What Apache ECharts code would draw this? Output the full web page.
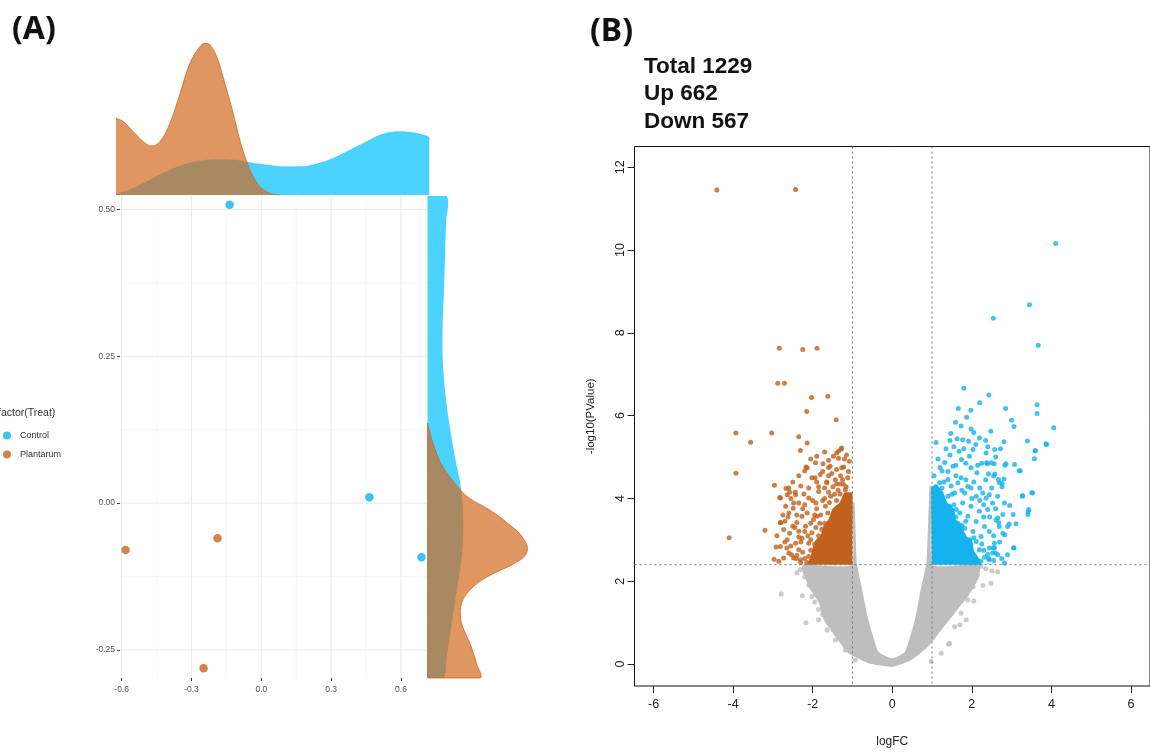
<!DOCTYPE html>
<html><head><meta charset="utf-8">
<script src="https://cdn.jsdelivr.net/npm/echarts@6/dist/echarts.min.js"></script>
<style>html,body{margin:0;padding:0;background:#fff}#c{width:1150px;height:755px}</style>
</head><body><div id="c"></div>
<script>
// ---------------- Panel A data ----------------
const treatGroups = ['Control', 'Plantarum'];
const controlPts = [[-0.136, 0.508], [0.464, 0.010], [0.688, -0.092]];
const plantarumPts = [[-0.583, -0.080], [-0.188, -0.060], [-0.248, -0.281]];
const pcaXTicks = [-0.6, -0.3, 0.0, 0.3, 0.6];
const pcaYTicks = [-0.25, 0.0, 0.25, 0.5];
const pcaXMinor = [-0.45, -0.15, 0.15, 0.45];
const pcaYMinor = [-0.125, 0.125, 0.375];
// top marginal density: [x, density height]
const topDensControl = [[-0.6245,0.7],[-0.550,6.7],[-0.478,15],[-0.4067,23.3],[-0.335,30],[-0.264,34],[-0.192,35.3],[-0.121,35],[-0.0495,32.3],[0.023,30],[0.094,28.3],[0.166,28.3],[0.2376,31],[0.309,36.7],[0.381,45],[0.452,53.3],[0.5237,61],[0.595,63.3],[0.6526,62.3],[0.6955,60],[0.7213,57.7]];
const topDensPlantarum = [[-0.6245,76.7],[-0.593,73.3],[-0.550,63.3],[-0.507,53.3],[-0.471,49],[-0.4355,53.3],[-0.393,71.7],[-0.349,101.7],[-0.307,131.7],[-0.264,148.3],[-0.242,151.7],[-0.2207,150],[-0.192,138.3],[-0.157,111.7],[-0.121,81.7],[-0.0925,55],[-0.063,33.3],[-0.035,18.3],[-0.0064,8.3],[0.023,3.3],[0.051,0.7],[0.08,0]];
// right marginal density: [density width, y]
const rightDensControl = [[19.2,0.5227],[18.5,0.4761],[17.5,0.4192],[16.5,0.3625],[15.2,0.3057],[15.2,0.2488],[17.5,0.1921],[21.8,0.1353],[27.5,0.0784],[33.8,0.0216],[35.8,-0.0351],[34.2,-0.092],[29.2,-0.1488],[24.2,-0.2055],[19.2,-0.2624],[15.8,-0.2977]];
const rightDensPlantarum = [[0,0.1358],[2.5,0.1188],[5.5,0.1018],[9,0.0849],[13,0.0678],[19,0.0523],[25,0.0387],[35,0.0182],[45,0.0046],[58,-0.0073],[70,-0.0209],[80,-0.0343],[90,-0.0480],[97,-0.0634],[100,-0.0770],[97,-0.0906],[85,-0.1045],[66,-0.1198],[52,-0.1335],[42,-0.1488],[36,-0.1624],[33,-0.1777],[33,-0.1913],[34,-0.2050],[38,-0.2220],[42.5,-0.2391],[46,-0.2561],[49,-0.2731],[52.5,-0.2977]];

// ---------------- Panel B data ----------------
const volcanoXTicks = [-6, -4, -2, 0, 2, 4, 6];
const volcanoYTicks = [0, 2, 4, 6, 8, 10, 12];
const fcCut = [-1, 1];
const pCut = 2.4;
const summaryLines = ['Total 1229', 'Up 662', 'Down 567'];
const downPts = [[-4.41,11.45],[-2.43,11.46],[-2.84,7.63],[-2.25,7.60],[-1.89,7.63],[-2.88,6.78],[-2.71,6.78],[-2.03,6.44],[-1.62,6.47],[-2.15,6.10],[-1.41,5.90],[-3.93,5.58],[-3.03,5.58],[-3.56,5.36],[-2.35,5.49],[-2.14,5.34],[-2.31,5.16],[-3.93,4.61],[-2.96,4.32],[-4.10,3.05],[-3.20,3.23],[-2.92,2.83],[-2.97,2.53],
[-1.27,5.22],[-1.35,5.14],[-1.29,5.19],[-1.70,5.12],[-1.60,4.92],[-1.56,4.78],[-1.35,4.97],[-1.27,4.74],[-1.93,4.86],[-2.14,4.74],[-2.20,4.66],[-2.17,4.76],[-1.74,4.84],[-2.02,4.50],[-1.81,4.58],[-1.64,4.38],[-1.43,4.45],[-1.23,4.34],[-1.18,4.21],[-1.22,4.76],
[-2.60,4.25],[-2.64,4.09],[-2.43,4.09],[-2.35,3.89],[-2.10,4.01],[-1.92,3.89],[-1.85,4.17],[-1.68,3.81],[-2.81,4.01],[-2.68,3.81],[-2.48,3.89],[-2.60,3.65],[-2.27,3.57],[-2.14,3.65],[-1.98,3.49],[-1.89,3.57],[-2.81,3.41],[-2.73,3.25],[-2.50,3.33],[-2.35,3.21],[-2.18,3.33],[-2.02,3.17],[-2.27,3.04],[-2.43,2.92],[-2.64,3.00],[-2.81,2.84],[-2.10,2.92],[-2.35,2.76],[-2.60,2.68],[-2.48,2.56],[-2.31,2.52],[-2.10,2.60],[-1.93,2.68],[-1.98,2.48],[-2.73,2.56],[-2.85,2.48],[-1.77,3.25],[-1.81,2.92],[-1.73,2.60],
[-1.94,4.50],[-1.85,4.28],[-1.49,4.28],[-1.31,4.11],[-1.16,4.28],[-2.67,4.24],[-2.44,4.15],[-2.22,4.11],[-2.58,4.15],[-2.49,3.76],[-2.62,3.55],[-2.40,3.42],[-2.58,3.16],[-2.35,3.07],[-2.53,2.64],[-2.42,2.55],[-2.83,4.02],[-2.81,3.42],
[-1.55,4.05],[-1.40,3.95],[-1.62,3.65],[-1.50,3.45],[-1.70,3.40],[-1.85,3.10],[-1.62,3.05],[-1.95,2.90],[-1.55,2.80],[-1.80,2.75],[-1.65,2.50],[-2.15,2.45],[-1.45,2.45],[-1.30,4.55],[-1.12,4.50],[-1.10,4.65],[-1.52,4.60],[-1.08,4.90],[-1.15,5.05],[-1.48,5.02],
[-2.30,2.95],[-2.20,3.20],[-2.05,3.40],[-1.90,3.75],[-1.75,3.95],[-1.60,4.15],[-1.40,4.35],[-2.40,2.62],[-2.25,2.70],[-2.05,3.00],[-1.92,3.30],[-1.80,3.60],[-1.70,4.00],[-1.36,4.20],[-1.25,4.45],[-2.55,2.85],[-2.70,2.95],[-2.45,3.30],[-2.20,3.85],[-2.00,3.95],[-1.75,4.65],[-1.60,4.55],[-2.50,4.40],[-2.35,4.55],[-2.05,4.95],[-1.40,4.70],[-1.20,4.95],[-1.65,4.40],[-2.65,2.80],[-2.30,2.45],
[-2.20,2.55],[-2.05,2.75],[-1.88,2.55],[-2.12,3.10],[-1.95,3.60],[-1.82,3.40],[-1.58,3.90],[-1.45,4.10],[-1.32,4.35],[-2.75,3.60],[-2.90,3.10],[-2.70,3.45],[-2.55,4.00],[-2.30,4.30],[-2.10,4.25],[-1.90,4.40],[-1.70,4.25],[-2.40,3.60],[-2.25,3.75],[-1.60,4.75],[-1.90,5.02],[-1.40,5.10],[-2.00,2.50],[-1.72,2.85]];
const upPts = [[4.11,10.16],[3.45,8.68],[2.54,8.35],[3.67,7.70],[1.80,6.66],[2.43,6.50],[2.20,6.31],[3.64,6.26],[3.64,6.05],[2.85,6.17],[1.66,6.17],[1.975,6.13],[4.06,5.71],[3.00,5.89],[3.06,5.74],[3.40,5.39],[3.875,5.30],[3.59,5.15],[3.575,4.96],[2.81,5.37],[2.475,5.62],[2.72,5.20],[2.575,5.18],[2.36,5.10],[2.49,4.86],[2.375,4.86],[2.86,4.84],[3.075,4.82],[3.22,4.67],[2.58,4.59],[2.81,4.47],[2.76,4.36],[3.53,4.13],[3.27,4.05],[3.43,3.73],[3.41,3.61],[3.04,3.61],[3.11,3.39],[2.90,3.32],[2.83,3.12],[3.05,2.80],[2.82,2.44],[2.65,4.05],[2.95,3.83],[2.65,3.53],[2.68,3.41],[2.57,2.80],[2.525,2.68],[2.32,2.58],
[1.47,5.57],[1.59,5.84],[1.73,5.75],[1.87,5.96],[1.98,5.68],[2.05,5.59],[1.63,5.44],[1.77,5.42],[1.92,5.38],[2.19,5.46],[2.03,5.18],[1.68,5.14],[1.94,5.02],[1.74,4.94],[1.32,4.87],[1.525,4.78],[1.98,4.74],[2.13,4.62],[1.25,4.66],[1.73,4.50],[1.90,4.29],[1.19,4.38],[2.275,4.13],[2.44,4.09],
[1.40,4.46],[1.48,4.30],[1.65,4.38],[1.57,4.13],[1.82,4.13],[1.98,4.25],[2.11,4.05],[2.36,4.01],[2.52,3.89],[2.40,3.73],[2.19,3.69],[1.98,3.81],[1.77,3.89],[1.61,3.73],[1.44,3.81],[1.90,3.57],[2.11,3.44],[2.32,3.32],[2.44,3.20],[2.69,3.32],[2.23,3.08],[2.03,3.20],[1.82,3.28],[1.65,3.40],[1.48,3.24],[1.73,3.00],[1.98,2.88],[2.19,2.76],[2.44,2.80],[2.57,2.92],[2.65,2.64],[2.44,2.52],[2.23,2.48],[2.07,2.56],[1.90,2.64],[1.69,2.72],[1.52,2.52],[1.28,2.76],[1.11,3.40],[1.19,3.97],[1.15,3.65],[1.32,3.69],[1.32,3.16],[1.07,3.00],[2.90,2.64],[2.11,2.96],[2.61,3.48],[2.82,3.89],[2.78,3.61],[2.55,4.54],[2.69,4.38],
[3.28,4.07],[3.51,4.14],[3.42,3.68],[3.06,2.81],[2.94,3.38],[2.78,3.16],[2.54,2.81],[2.60,2.68],[2.42,2.55],[2.83,4.80],[3.19,4.67],[2.56,4.84],[2.39,4.84],[2.42,4.59],[2.67,4.46],[2.76,4.28],[3.87,5.32],[3.60,5.15],
[1.10,4.20],[1.30,4.40],[1.50,4.10],[1.70,3.65],[1.85,3.45],[2.05,3.05],[2.25,2.90],[2.40,2.65],[2.55,2.50],[1.20,4.75],[1.40,4.65],[1.60,4.55],[1.85,4.45],[2.05,4.40],[2.20,4.25],[2.30,3.85],[2.45,3.55],[2.55,3.10],[2.70,2.95],[2.75,2.55],[1.05,4.55],[1.15,4.95],[1.35,5.20],[1.55,5.25],[2.25,4.85],[2.10,5.30],[2.35,5.40],[2.60,5.00],[1.10,5.35],[1.45,5.05],
[2.15,2.50],[2.00,2.70],[1.95,3.00],[1.80,3.10],[1.75,3.35],[1.60,3.55],[1.55,3.85],[1.40,4.05],[1.25,4.25],[2.30,3.55],[2.20,3.95],[2.00,4.00],[1.75,4.20],[2.35,4.45],[2.15,4.80],[1.85,4.85],[1.60,4.80],[1.45,5.40],[1.80,5.20],[2.40,5.25],[2.60,3.75],[2.50,4.25],[2.30,2.75],[1.62,2.95]];
const ndPts = [[-2.79,1.69],[-2.17,1.00],[-2.26,1.65],[-1.85,1.32],[-2.31,2.28],[-2.10,1.91],[-2.02,1.63],[-1.85,1.07],[-1.64,0.82],[-1.43,0.58],[-1.18,0.34],[-0.93,0.10],[-2.40,2.20],[-2.20,2.10],[-1.95,1.50],[-1.75,1.20],
[2.23,2.36],[2.03,1.87],[1.90,1.55],[1.73,1.23],[1.57,0.90],[1.44,0.50],[1.23,0.26],[0.98,0.06],[2.65,2.23],[2.48,1.95],[2.51,2.25],[2.28,1.90],[2.05,1.52],[1.86,1.07],[1.42,0.48],[2.35,2.30],[2.15,2.15],[1.70,0.95]];
// dense cores of the point clouds (outline)
const ndCore = [[-2.25,2.40],[-2.27,2.28],[-2.10,1.87],[-1.85,1.48],[-1.72,1.07],[-1.43,0.66],[-1.10,0.26],[-0.60,0.02],[0,-0.07],[0.48,0.10],[0.90,0.42],[1.23,0.82],[1.57,1.23],[1.90,1.63],[2.15,2.03],[2.23,2.40],[1.02,2.40],[1.00,4.30],[0.94,4.30],[0.86,2.44],[0.73,1.87],[0.57,1.07],[0.32,0.30],[0,0.14],[-0.35,0.30],[-0.60,1.07],[-0.77,1.87],[-0.89,2.44],[-0.95,3.90],[-1.02,3.90],[-1.02,2.40]];
const downCore = [[-1.0,2.4],[-2.15,2.4],[-2.05,2.6],[-2.0,2.8],[-1.92,3.0],[-1.8,3.1],[-1.72,3.35],[-1.6,3.5],[-1.5,3.75],[-1.32,3.9],[-1.2,4.15],[-1.0,4.15]];
const upCore = [[1.0,2.4],[2.25,2.4],[2.15,2.6],[2.05,2.75],[2.0,3.0],[1.85,3.1],[1.75,3.35],[1.6,3.5],[1.55,3.75],[1.38,3.9],[1.28,4.15],[1.1,4.35],[0.98,4.25]];

// ---------------- chart ----------------
const chart = echarts.init(document.getElementById('c'));
const FONT = 'Liberation Sans';
const BLUE_PT = '#0db3ef', ORANGE_PT = '#cb651c';
const VB = '#14b3ee', VO = '#c1611c', VG = '#bebebe';
const BBOX_ONLY = [[Infinity, Infinity], [-Infinity, -Infinity]]; // constrain smoothing to the points' own box

function polygonSeries(name, xi, yi, pts, fill, stroke, smooth, z) {
  return {
    name, type: 'custom', xAxisIndex: xi, yAxisIndex: yi, z, silent: true,
    data: [pts[0]],
    renderItem: (p, api) => ({
      type: 'polygon',
      shape: { points: pts.map(q => api.coord(q)), smooth: smooth, smoothConstraint: BBOX_ONLY },
      style: { fill: fill, stroke: stroke || 'none', lineWidth: stroke ? 0.8 : 0 }
    })
  };
}
function closeVertical(pts) { // close a right-side density to x = 0
  return [[0, pts[0][1]], ...pts, [0, pts[pts.length - 1][1]]];
}
function refLineSeries(xi, yi, items, styles, z) {
  return {
    type: 'custom', xAxisIndex: xi, yAxisIndex: yi, z, silent: true,
    data: items.map((it, i) => [i, 0]),
    renderItem: (p, api) => {
      const it = items[p.dataIndex];
      const st = styles[it[2]];
      const cs = p.coordSys;
      let shape;
      if (it[0] === 'v') {
        const x = api.coord([it[1], 0])[0];
        shape = { x1: x, y1: cs.y, x2: x, y2: cs.y + cs.height };
      } else {
        const y = api.coord([0, it[1]])[1];
        shape = { x1: cs.x, y1: y, x2: cs.x + cs.width, y2: y };
      }
      return { type: 'line', shape, style: { stroke: st.color, lineWidth: st.width, lineDash: st.dash || null } };
    }
  };
}

const pcaGridItems = [
  ...pcaXTicks.map(v => ['v', v, 'major']), ...pcaXMinor.map(v => ['v', v, 'minor']),
  ...pcaYTicks.map(v => ['h', v, 'major']), ...pcaYMinor.map(v => ['h', v, 'minor'])
];
const pcaGridStyles = { major: { color: '#e8e8e8', width: 1 }, minor: { color: '#f3f3f3', width: 0.7 } };
const cutItems = [...fcCut.map(v => ['v', v, 'cut']), ['h', pCut, 'cut']];
const cutStyles = { cut: { color: '#7a7a7a', width: 1, dash: [2, 3] } };

const option = {
  animation: false,
  backgroundColor: '#fff',
  textStyle: { fontFamily: FONT },
  grid: [
    { left: 120, top: 196, width: 308, height: 482 },
    { left: 116, top: 35, width: 313.3, height: 160 },
    { left: 427.5, top: 196, width: 110, height: 482 },
    { left: 634.5, top: 146.5, width: 518.4, height: 539.5, show: true, borderColor: '#111', borderWidth: 1 }
  ],
  xAxis: [
    { gridIndex: 0, type: 'value', min: -0.607, max: 0.716,
      axisLine: { show: false, onZero: false }, splitLine: { show: false },
      axisTick: { show: true, length: 3, customValues: pcaXTicks, lineStyle: { color: '#444' } },
      axisLabel: { customValues: pcaXTicks, fontSize: 8.5, color: '#555', margin: 7, formatter: v => v.toFixed(1) } },
    { gridIndex: 1, type: 'value', min: -0.6245, max: 0.7213, show: false },
    { gridIndex: 2, type: 'value', min: 0, max: 110, show: false },
    { gridIndex: 3, type: 'value', min: -6.48, max: 6.48,
      axisLine: { show: false, onZero: false }, splitLine: { show: false },
      axisTick: { show: true, length: 7, customValues: volcanoXTicks, lineStyle: { color: '#222' } },
      axisLabel: { customValues: volcanoXTicks, fontSize: 12.5, color: '#222', margin: 12 },
      name: 'logFC', nameLocation: 'middle', nameGap: 50, nameTextStyle: { fontSize: 12, color: '#222' } }
  ],
  yAxis: [
    { gridIndex: 0, type: 'value', min: -0.2977, max: 0.5227,
      axisLine: { show: false, onZero: false }, splitLine: { show: false },
      axisTick: { show: true, length: 3, customValues: pcaYTicks, lineStyle: { color: '#444' } },
      axisLabel: { customValues: pcaYTicks, fontSize: 8.5, color: '#555', margin: 5, formatter: v => v.toFixed(2) } },
    { gridIndex: 1, type: 'value', min: 0, max: 160, show: false },
    { gridIndex: 2, type: 'value', min: -0.2977, max: 0.5227, show: false },
    { gridIndex: 3, type: 'value', min: -0.53, max: 12.5,
      axisLine: { show: false, onZero: false }, splitLine: { show: false },
      axisTick: { show: true, length: 7, customValues: volcanoYTicks, lineStyle: { color: '#222' } },
      axisLabel: { customValues: volcanoYTicks, fontSize: 12.5, color: '#222', margin: 7, rotate: 90 },
      name: '-log10(PValue)', nameLocation: 'middle', nameGap: 38, nameTextStyle: { fontSize: 11.5, color: '#222' } }
  ],
  legend: {
    orient: 'vertical', left: 3, top: 431, padding: 0, itemWidth: 8, itemHeight: 8, itemGap: 10,
    icon: 'circle', selectedMode: false, data: treatGroups,
    textStyle: { fontSize: 9, color: '#333', padding: [0, 0, 0, 4] }
  },
  graphic: [
    { type: 'text', left: 12, top: 14, style: { text: '(A)', font: 'bold 32px "Noto Sans"', fill: '#111' } },
    { type: 'text', left: 590, top: 16, style: { text: '(B)', font: 'bold 32px "Noto Sans"', fill: '#111' } },
    { type: 'text', x: -2, y: 413, style: { text: 'factor(Treat)', font: '10.5px "Liberation Sans"', fill: '#333', verticalAlign: 'middle' } },
    ...summaryLines.map((t, i) => ({ type: 'text', x: 644, y: 66.5 + i * 27.7,
      style: { text: t, font: 'bold 22.5px "Liberation Sans"', fill: '#111', verticalAlign: 'middle' } }))
  ],
  series: [
    refLineSeries(0, 0, pcaGridItems, pcaGridStyles, 1),
    { name: 'Control', type: 'scatter', xAxisIndex: 0, yAxisIndex: 0, data: controlPts, symbolSize: 8.5,
      itemStyle: { color: BLUE_PT }, z: 3 },
    { name: 'Plantarum', type: 'scatter', xAxisIndex: 0, yAxisIndex: 0, data: plantarumPts, symbolSize: 8.5,
      itemStyle: { color: ORANGE_PT }, z: 3 },
    { name: 'topControl', type: 'line', xAxisIndex: 1, yAxisIndex: 1, data: topDensControl, smooth: 0.4, symbol: 'none',
      lineStyle: { color: 'rgba(0,191,255,0.75)', width: 0.6 }, areaStyle: { color: 'rgba(0,191,255,0.7)', opacity: 1 }, z: 2 },
    { name: 'topPlantarum', type: 'line', xAxisIndex: 1, yAxisIndex: 1, data: topDensPlantarum, smooth: 0.4, symbol: 'none',
      lineStyle: { color: '#c9691f', width: 0.8 }, areaStyle: { color: 'rgba(210,105,30,0.7)', opacity: 1 }, z: 3 },
    polygonSeries('rightControl', 2, 2, closeVertical(rightDensControl), 'rgba(0,191,255,0.7)', null, 0.35, 2),
    polygonSeries('rightPlantarum', 2, 2, closeVertical(rightDensPlantarum), 'rgba(210,105,30,0.7)', '#c9691f', 0.35, 3),
    polygonSeries('ndCore', 3, 3, ndCore, VG, null, 0.15, 2),
    { name: 'NoDiff', type: 'scatter', xAxisIndex: 3, yAxisIndex: 3, data: ndPts, symbolSize: 5, itemStyle: { color: VG }, z: 2, silent: true },
    polygonSeries('downCore', 3, 3, downCore, VO, null, 0.15, 3),
    polygonSeries('upCore', 3, 3, upCore, VB, null, 0.15, 3),
    { name: 'Down', type: 'scatter', xAxisIndex: 3, yAxisIndex: 3, data: downPts, symbolSize: 5, itemStyle: { color: VO }, z: 4, silent: true },
    { name: 'Up', type: 'scatter', xAxisIndex: 3, yAxisIndex: 3, data: upPts, symbolSize: 5, itemStyle: { color: VB }, z: 4, silent: true },
    refLineSeries(3, 3, cutItems, cutStyles, 6)
  ]
};
chart.setOption(option);
</script>
</body></html>
